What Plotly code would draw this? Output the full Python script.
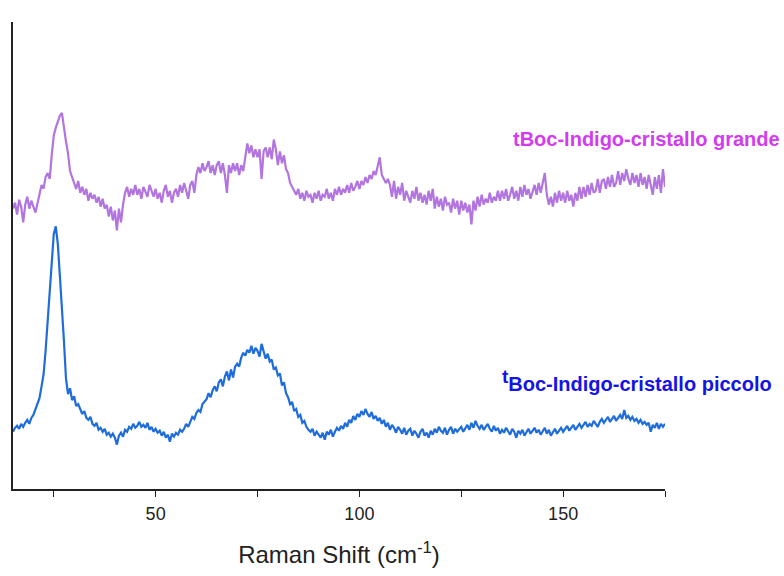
import numpy as np
import plotly.graph_objects as go

# Raman shift sampling grid (cm^-1)
raman_shift = np.arange(15, 175.01, 0.5)

# Intensity (arbitrary units, offset) - tBoc-Indigo-cristallo piccolo
piccolo = [
    58, 62, 64, 61, 66, 63, 67, 70, 66, 72,
    75, 80, 86, 92, 104, 116, 140, 168, 200, 228,
    258, 266, 248, 216, 186, 150, 112, 96, 102, 90,
    94, 84, 86, 80, 76, 79, 72, 70, 73, 66,
    64, 67, 60, 62, 58, 61, 55, 57, 53, 56,
    52, 45, 54, 57, 53, 60, 58, 63, 61, 66,
    62, 64, 68, 63, 65, 62, 67, 60, 63, 58,
    61, 57, 59, 54, 58, 52, 55, 48, 56, 53,
    57, 55, 60, 58, 61, 66, 63, 68, 73, 71,
    77, 80, 78, 86, 88, 91, 97, 93, 100, 104,
    99, 108, 111, 104, 114, 119, 110, 121, 113, 124,
    127, 124, 133, 138, 135, 141, 138, 145, 137, 143,
    140, 134, 147, 139, 132, 137, 129, 131, 121, 123,
    115, 117, 105, 108, 97, 93, 86, 88, 79, 81,
    73, 75, 67, 69, 63, 60, 58, 61, 54, 58,
    55, 52, 57, 50, 58, 55, 60, 53, 58, 62,
    59, 64, 61, 67, 63, 70, 67, 74, 70, 76,
    73, 79, 75, 81, 76, 73, 78, 71, 74, 69,
    72, 66, 70, 63, 67, 60, 65, 62, 57, 63,
    60, 56, 62, 55, 59, 61, 54, 59, 56, 52,
    58, 61, 54, 57, 52, 59, 55, 61, 57, 63,
    59, 57, 62, 55, 60, 63, 56, 61, 58, 60,
    63, 58, 61, 65, 60, 67, 62, 69, 64, 61,
    65, 60, 63, 66, 61, 58, 64, 59, 62, 56,
    60, 57, 62, 59, 55, 61, 58, 52, 59, 56,
    60, 54, 58, 61, 56, 59, 62, 57, 60, 55,
    59, 62, 56, 60, 54, 58, 61, 56, 59, 62,
    58, 61, 64, 59, 62, 65, 60, 63, 66, 62,
    65, 68, 63, 66, 64, 69, 66, 63, 68, 71,
    67, 70, 73, 68, 71, 74, 69, 72, 75, 71,
    80, 72, 74, 70, 73, 69, 71, 67, 70, 66,
    68, 65, 67, 58, 65, 62, 67, 61, 66, 63,
    66,
]

# Intensity (arbitrary units, offset) - tBoc-Indigo-cristallo grande
grande = [
    284, 290, 278, 293, 286, 270, 288, 296, 284, 292,
    286, 280, 289, 300, 308, 304, 316, 320, 314, 338,
    358, 366, 372, 378, 381, 364, 352, 340, 322, 316,
    310, 304, 312, 300, 306, 298, 304, 292, 300, 294,
    298, 290, 296, 286, 294, 284, 288, 276, 286, 272,
    282, 262, 284, 270, 288, 300, 306, 296, 304, 298,
    308, 298, 304, 294, 306, 300, 296, 308, 302, 296,
    304, 294, 300, 290, 302, 308, 296, 302, 290, 300,
    304, 296, 308, 300, 310, 302, 294, 308, 312, 300,
    318, 326, 320, 330, 322, 326, 332, 320, 328, 318,
    328, 332, 320, 330, 318, 300, 328, 320, 330, 322,
    330, 318, 328, 322, 336, 350, 340, 348, 336, 344,
    336, 344, 314, 342, 346, 336, 346, 334, 354, 344,
    328, 342, 330, 338, 324, 320, 310, 306, 302, 298,
    304, 294, 300, 292, 302, 296, 298, 290, 300, 294,
    302, 292, 298, 296, 304, 294, 300, 292, 304, 298,
    306, 298, 304, 300, 308, 300, 310, 302, 306, 312,
    304, 312, 308, 316, 310, 318, 314, 322, 318, 326,
    336, 318, 314, 310, 314, 308, 296, 312, 294, 306,
    298, 310, 292, 302, 296, 290, 302, 294, 306, 292,
    300, 290, 298, 288, 302, 292, 304, 284, 296, 286,
    294, 282, 296, 288, 290, 280, 294, 284, 292, 278,
    292, 282, 290, 280, 288, 268, 292, 282, 296, 286,
    298, 288, 294, 290, 300, 290, 296, 292, 302, 292,
    302, 294, 304, 292, 298, 306, 294, 302, 292, 306,
    296, 308, 298, 304, 294, 300, 308, 298, 310, 300,
    310, 320, 298, 288, 296, 286, 300, 290, 302, 292,
    300, 290, 302, 292, 298, 286, 300, 292, 306, 294,
    306, 296, 308, 298, 310, 300, 302, 314, 300, 312,
    314, 304, 316, 306, 318, 306, 310, 322, 308, 320,
    312, 324, 314, 308, 320, 310, 318, 306, 320, 308,
    316, 304, 318, 306, 298, 316, 304, 318, 300, 324,
    306,
]

label_grande = "<b>tBoc-Indigo-cristallo grande</b>"
label_piccolo = "<b><sup><span style='font-size:19px'>t</span></sup>Boc-Indigo-cristallo piccolo</b>"

fig = go.Figure()
fig.add_trace(go.Scatter(x=raman_shift, y=grande, mode="lines",
                         line=dict(color="#B274DF", width=2.2), showlegend=False))
fig.add_trace(go.Scatter(x=raman_shift, y=piccolo, mode="lines",
                         line=dict(color="#1F6CDB", width=2.2), showlegend=False))

fig.add_annotation(x=137.3, y=355, xref="x", yref="y", text=label_grande,
                   showarrow=False, xanchor="left", yanchor="middle",
                   font=dict(family="Liberation Sans, Arial", size=20, color="#D23BEF"))
fig.add_annotation(x=134.6, y=110, xref="x", yref="y", text=label_piccolo,
                   showarrow=False, xanchor="left", yanchor="middle",
                   font=dict(family="Liberation Sans, Arial", size=20, color="#1414E6"))

fig.update_layout(
    width=784, height=576,
    margin=dict(l=13, r=119, t=22, b=81),
    paper_bgcolor="white", plot_bgcolor="white",
    font=dict(family="Liberation Sans, Arial", color="#222222"),
    xaxis=dict(
        range=[15, 175], tickvals=[50, 100, 150], ticktext=["50", "100", "150"],
        ticks="outside", ticklen=6, tickwidth=1.2, tickcolor="#222",
        minor=dict(tickvals=[25, 75, 125, 175], ticks="outside", ticklen=6,
                   tickwidth=1.2, tickcolor="#222"),
        showline=True, linecolor="#222", linewidth=1.5, showgrid=False,
        zeroline=False, tickfont=dict(size=18, color="#222"),
        ticklabelstandoff=2,
        title=dict(text="Raman Shift (cm<sup>-1</sup>)", font=dict(size=24, color="#222"),
                   standoff=23),
    ),
    yaxis=dict(
        range=[0, 473], showticklabels=False, ticks="", showline=True,
        linecolor="#222", linewidth=1.5, showgrid=False, zeroline=False,
    ),
)

fig.write_html("out.html")
